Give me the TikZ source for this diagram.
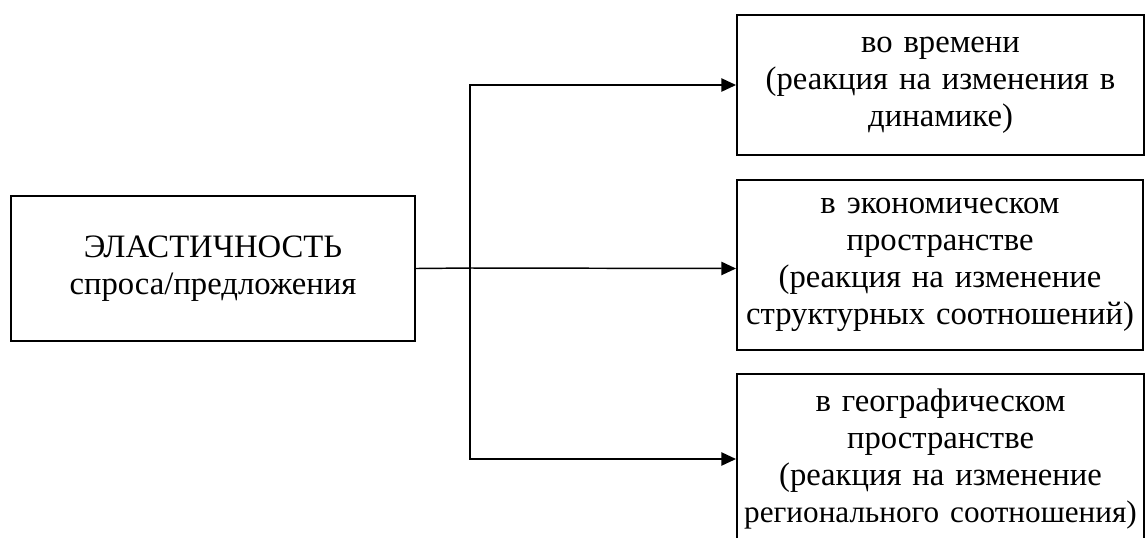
\documentclass[tikz,border=0pt]{standalone}
\usepackage{fontspec}
\setmainfont{Liberation Serif}
\usetikzlibrary{arrows.meta,calc}
\begin{document}
\begin{tikzpicture}[x=0.75pt,y=-0.75pt,
  box/.style={draw,line width=1.5pt,rectangle,inner sep=0pt,align=center,
    font=\fontsize{24.5pt}{27.8pt}\selectfont},
  conn/.style={line width=1.1pt,-{Triangle[length=11pt,width=10pt]}},
  wire/.style={line width=1.1pt}]
\useasboundingbox (0,0) rectangle (1146,537);
\clip (0,0) rectangle (1146,537);
\node[box,minimum width=404*0.75pt,minimum height=145*0.75pt,text width=404*0.75pt] (L) at (213,268.5)
  {ЭЛАСТИЧНОСТЬ\\спроса/предложения};
\node[box,minimum width=407*0.75pt,minimum height=140*0.75pt,text width=407*0.75pt] (T) at (940.5,85)
  {во времени\\(реакция на изменения в\\динамике)};
\node[box,minimum width=406*0.75pt,minimum height=170*0.75pt,text width=406*0.75pt] (M) at (940,265)
  {в экономическом\\пространстве\\(реакция на изменение\\\mbox{структурных соотношений)}};
\node[box,minimum width=407*0.75pt,minimum height=170*0.75pt,text width=407*0.75pt] (B) at (940.5,459)
  {в географическом\\пространстве\\(реакция на изменение\\\mbox{\fontsize{23.4pt}{27.8pt}\selectfont регионального соотношения)}};
\coordinate (j) at (470,268);
\draw[wire] (L.east) -- (j);
\draw[conn] (j) -- (L.east -| M.west);
\draw[conn] (j) |- (T.west);
\draw[conn] (j) |- (B.west);
\end{tikzpicture}
\end{document}
